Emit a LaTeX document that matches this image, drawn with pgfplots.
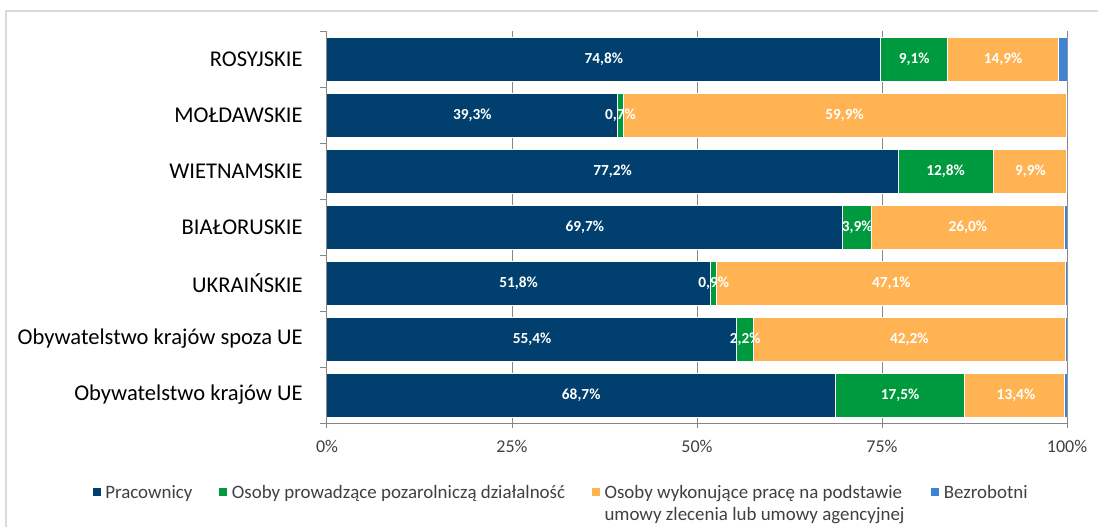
\documentclass[border=0pt]{standalone}
\usepackage{pgfplots}
\pgfplotsset{compat=1.18}
\usepackage{pgfplotstable}
\usepackage{fontspec}
\setmainfont{Carlito}
\definecolor{cPrac}{RGB}{1,64,110}
\definecolor{cOsob}{RGB}{0,154,62}
\definecolor{cUmow}{RGB}{255,179,82}
\definecolor{cBezr}{RGB}{62,131,212}
\definecolor{cGrid}{RGB}{134,134,134}
\definecolor{cFrame}{RGB}{217,217,224}
\definecolor{cText}{RGB}{64,64,64}

\pgfplotstableread{
y  prac  osob  umow  bezr
0  68.7  17.5  13.4  0.4
1  55.4  2.2   42.2  0.2
2  51.8  0.9   47.1  0.2
3  69.7  3.9   26.0  0.4
4  77.2  12.8  9.9   0.1
5  39.3  0.7   59.9  0.1
6  74.8  9.1   14.9  1.2
}\datatable

% label positions (segment centres) and values
\pgfplotstableread{
x      y  v
34.35  0  68.7
77.45  0  17.5
93.10  0  13.4
27.70  1  55.4
56.50  1  2.2
78.70  1  42.2
25.90  2  51.8
52.25  2  0.9
76.25  2  47.1
34.85  3  69.7
71.65  3  3.9
86.60  3  26.0
38.60  4  77.2
83.60  4  12.8
95.05  4  9.9
19.65  5  39.3
39.65  5  0.7
69.95  5  59.9
37.40  6  74.8
79.35  6  9.1
91.35  6  14.9
}\labeltable

\pgfplotsset{
  sqlegend/.style={legend image code/.code={\draw[##1,draw=none] (0pt,-3pt) rectangle (6pt,3pt);}},
}

\begin{document}
\begin{tikzpicture}
\useasboundingbox (-245.25pt,-77.25pt) rectangle (578.25pt,317.25pt);
\draw[cFrame, line width=1.2pt] (-240.75pt,-80pt) -- (-240.75pt,309pt) -- (580pt,309pt);
\begin{axis}[
  at={(0pt,0pt)}, anchor=south west,
  scale only axis, width=555pt, height=294pt,
  xbar stacked, bar width=33pt,
  xmin=0, xmax=100, ymin=-0.5, ymax=6.5,
  axis x line*=bottom, axis y line*=left,
  axis line style={cGrid, line width=0.75pt},
  xtick={0,25,50,75,100},
  xticklabels={0\%,25\%,50\%,75\%,100\%},
  xmajorgrids, major grid style={cGrid, line width=0.75pt},
  tick align=outside,
  major tick length=3.75pt,
  xtick style={cGrid, line width=0.75pt},
  ytick={0,...,6},
  yticklabels={Obywatelstwo krajów UE, Obywatelstwo krajów spoza UE, UKRAIŃSKIE, BIAŁORUSKIE, WIETNAMSKIE, MOŁDAWSKIE, ROSYJSKIE},
  ytick style={draw=none},
  extra y ticks={-0.5,0.5,1.5,2.5,3.5,4.5,5.5,6.5},
  extra y tick labels={},
  extra y tick style={ytick style={draw=cGrid, line width=0.75pt}, major tick length=5.25pt, grid=none},
  yticklabel style={font=\fontsize{16.9pt}{20pt}\selectfont, text=black, xshift=-11pt},
  xticklabel style={font=\fontsize{13.5pt}{16pt}\selectfont, text=cText, yshift=-6pt, /pgf/number format/assume math mode=true},
  legend columns=4,
  legend cell align=left,
  legend style={at={(axis description cs:-0.3171,-0.176)}, anchor=west, draw=none, fill=none, inner sep=0pt,
    font=\fontsize{14.2pt}{16.5pt}\selectfont\color{cText},
    /tikz/every odd column/.append style={column sep=1.5pt},
    /tikz/every even column/.append style={column sep=18pt}},
]
\addplot[fill=cPrac, draw=white, line width=0.75pt, sqlegend] table[x=prac,y=y]{\datatable};
\addlegendentry{\strut Pracownicy}
\addplot[fill=cOsob, draw=white, line width=0.75pt, sqlegend] table[x=osob,y=y]{\datatable};
\addlegendentry{\strut Osoby prowadzące pozarolniczą działalność}
\addplot[fill=cUmow, draw=white, line width=0.75pt, sqlegend] table[x=umow,y=y]{\datatable};
\addlegendentry{\begin{tabular}[t]{@{}l@{}}\strut Osoby wykonujące pracę na podstawie\\umowy zlecenia lub umowy agencyjnej\end{tabular}}
\addplot[fill=cBezr, draw=white, line width=0.75pt, sqlegend] table[x=bezr,y=y]{\datatable};
\addlegendentry{\strut Bezrobotni}
\end{axis}
\begin{axis}[
  at={(0pt,0pt)}, anchor=south west,
  scale only axis, width=555pt, height=294pt,
  xmin=0, xmax=100, ymin=-0.5, ymax=6.5,
  hide axis,
]
\addplot[only marks, mark=none, point meta=explicit,
  nodes near coords={\pgfmathprintnumber[fixed,fixed zerofill,precision=1,use comma,assume math mode=true]{\pgfplotspointmeta}\%},
  every node near coord/.append style={anchor=center, text=white, font=\bfseries\fontsize{11.5pt}{13pt}\selectfont}]
  table[x=x,y=y,meta=v]{\labeltable};
\end{axis}
\end{tikzpicture}
\end{document}
